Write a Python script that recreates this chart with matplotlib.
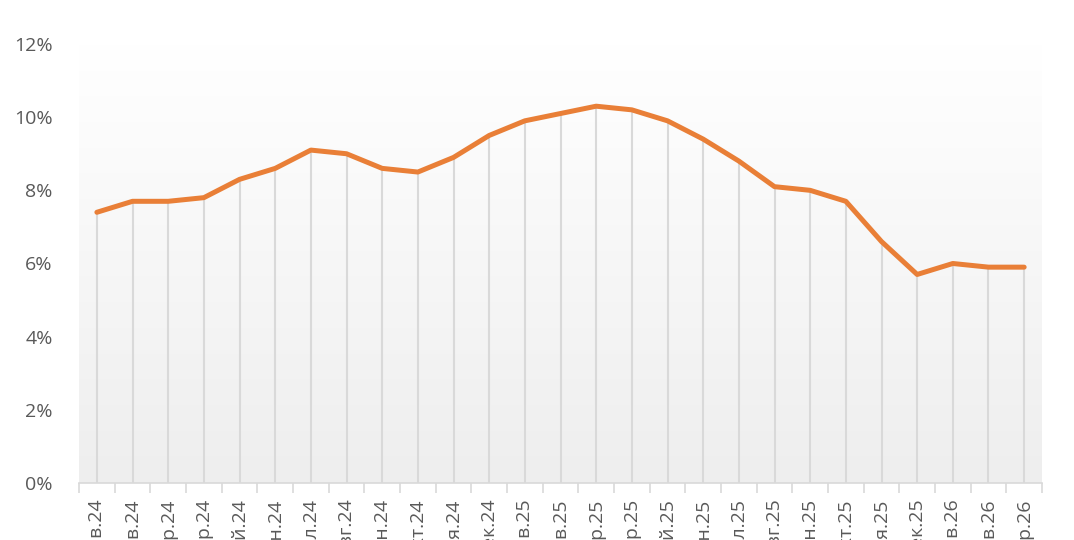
"""Годовая динамика показателя по месяцам, янв.24 - мар.26"""

import numpy as np
import matplotlib.pyplot as plt
from matplotlib.colors import LinearSegmentedColormap
from matplotlib.ticker import FuncFormatter, FixedLocator

plt.rcParams['font.family'] = ['Open Sans', 'DejaVu Sans']

# Подписи месяцев
months = ["янв.24", "фев.24", "мар.24", "апр.24", "май.24", "июн.24",
          "июл.24", "авг.24", "сен.24", "окт.24", "ноя.24", "дек.24",
          "янв.25", "фев.25", "мар.25", "апр.25", "май.25", "июн.25",
          "июл.25", "авг.25", "сен.25", "окт.25", "ноя.25", "дек.25",
          "янв.26", "фев.26", "мар.26"]

# Значения, %
values = [7.4, 7.7, 7.7, 7.8, 8.3, 8.6, 9.1, 9.0, 8.6, 8.5, 8.9, 9.5,
          9.9, 10.1, 10.3, 10.2, 9.9, 9.4, 8.8, 8.1, 8.0, 7.7, 6.6, 5.7,
          6.0, 5.9, 5.9]

y_ticks = [0, 2, 4, 6, 8, 10, 12]

x = np.arange(len(months))
n = len(months)

fig = plt.figure(figsize=(10.74, 5.40), dpi=100)
ax = fig.add_axes([0.0736, 0.1056, 0.8966, 0.8129])

# Фон с градиентом (белый сверху, светло-серый снизу)
cmap = LinearSegmentedColormap.from_list("bg", ["#ffffff", "#eeeeee"])
grad = np.linspace(0, 1, 256).reshape(-1, 1)
ax.imshow(grad, extent=[-0.5, n - 0.5, 0, 12], aspect='auto',
          cmap=cmap, origin='upper', zorder=0)

# Линии проекции до оси
ax.vlines(x, 0, values, color='#d9d9d9', lw=1.5, zorder=1)

# Основная линия
ax.plot(x, values, color='#e97f37', lw=3.6, solid_joinstyle='round',
        solid_capstyle='round', zorder=3)

ax.set_xlim(-0.5, n - 0.5)
ax.set_ylim(0, 12)

ax.set_yticks(y_ticks)
ax.yaxis.set_major_formatter(FuncFormatter(lambda v, _: f"{v:.0f}%"))
ax.tick_params(axis='y', length=0, pad=19, labelsize=14, labelcolor='#595959')

ax.set_xticks(x)
ax.set_xticklabels(months, rotation=90, va='top', ha='center')
ax.xaxis.set_minor_locator(FixedLocator(np.arange(-0.5, n, 1.0)))
ax.tick_params(axis='x', which='major', length=0, pad=11, labelsize=14,
               labelcolor='#595959')
ax.tick_params(axis='x', which='minor', length=7, width=1.2, color='#d9d9d9')

for side in ['top', 'right', 'left']:
    ax.spines[side].set_visible(False)
ax.spines['bottom'].set_color('#d9d9d9')
ax.spines['bottom'].set_linewidth(1.2)
ax.spines['bottom'].set_zorder(2)

fig.savefig("out.png", dpi=100)
